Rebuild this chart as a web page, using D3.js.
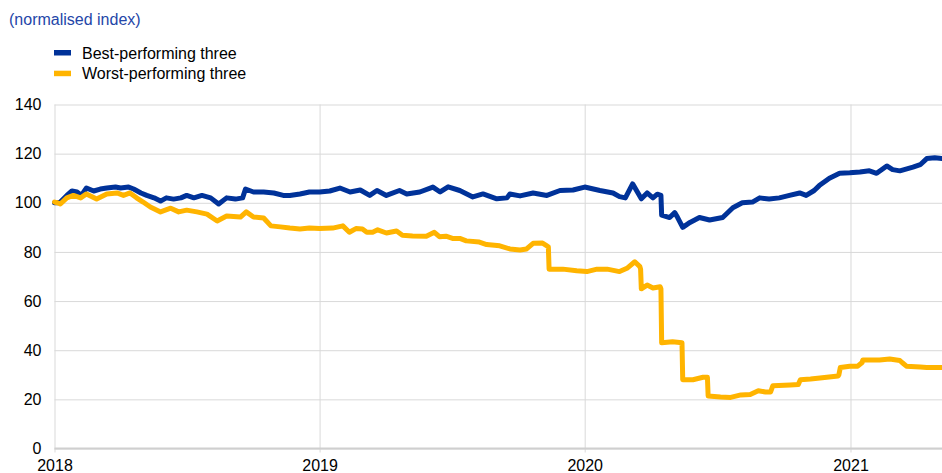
<!DOCTYPE html>
<html>
<head>
<meta charset="utf-8">
<script src="https://cdn.jsdelivr.net/npm/d3@7"></script>
<style>
  html, body { margin: 0; padding: 0; background: #fff; }
  svg { display: block; font-family: Arial, "Liberation Sans", sans-serif; }
</style>
</head>
<body>
<svg id="chart" width="942" height="473"></svg>
<script>
const yTickValues = [0, 20, 40, 60, 80, 100, 120, 140];
const xTickLabels = ["2018", "2019", "2020", "2021"];
const seriesNames = ["Best-performing three", "Worst-performing three"];
const unitLabel = "(normalised index)";

const bestDates = ["2018-01-01","2018-01-05","2018-01-09","2018-01-18","2018-01-25","2018-02-01","2018-02-07","2018-02-14","2018-02-24","2018-03-05","2018-03-14","2018-03-26","2018-04-02","2018-04-13","2018-04-20","2018-04-30","2018-05-08","2018-05-18","2018-05-27","2018-06-04","2018-06-14","2018-06-24","2018-07-02","2018-07-12","2018-07-23","2018-08-04","2018-08-15","2018-08-26","2018-09-07","2018-09-17","2018-09-21","2018-10-02","2018-10-16","2018-10-30","2018-11-12","2018-11-21","2018-12-05","2018-12-18","2019-01-01","2019-01-15","2019-01-29","2019-02-12","2019-02-26","2019-03-11","2019-03-21","2019-04-03","2019-04-21","2019-05-01","2019-05-19","2019-06-06","2019-06-16","2019-06-27","2019-07-13","2019-07-31","2019-08-14","2019-09-02","2019-09-16","2019-09-20","2019-10-04","2019-10-22","2019-11-10","2019-11-28","2019-12-16","2020-01-01","2020-01-22","2020-02-09","2020-02-18","2020-02-26","2020-03-07","2020-03-19","2020-03-27","2020-04-04","2020-04-10","2020-04-15","2020-04-16","2020-04-27","2020-05-04","2020-05-08","2020-05-15","2020-05-25","2020-06-07","2020-06-21","2020-07-09","2020-07-23","2020-08-05","2020-08-19","2020-08-29","2020-09-11","2020-09-25","2020-10-09","2020-10-23","2020-11-01","2020-11-12","2020-11-19","2020-12-03","2020-12-17","2020-12-31","2021-01-14","2021-01-27","2021-02-06","2021-02-20","2021-02-28","2021-03-10","2021-03-28","2021-04-07","2021-04-16","2021-04-27","2021-05-07"];
const bestValues = [100,100,100.3,103,104.8,104.4,103,106,104.8,105.6,106,106.4,106,106.4,105.6,104,103,102,100.7,102,101.5,102,103,102,103,102,99.5,102,101.5,102,105.6,104.4,104.4,104,103,103,103.6,104.4,104.4,104.8,106,104.4,105.2,103,105,103,105,103.6,104.4,106.4,104.4,106.5,105,102.4,103.6,101.6,102,103.6,102.8,104,103,105,105.2,106.4,105,104,102.5,102,107.7,101.6,104,102,103.5,103,95,94,96,94,90,92,94,93,94,98,100,100.3,102,101.5,102,103,104,103,105,107,110,112,112.2,112.5,113,112,115,113.5,113,114.5,115.5,118,118.3,118];

const worstDates = ["2018-01-01","2018-01-05","2018-01-09","2018-01-18","2018-01-27","2018-02-06","2018-02-14","2018-02-28","2018-03-14","2018-03-28","2018-04-06","2018-04-15","2018-04-24","2018-05-03","2018-05-13","2018-05-27","2018-06-10","2018-06-21","2018-07-02","2018-07-16","2018-07-30","2018-08-13","2018-08-26","2018-09-14","2018-09-22","2018-10-02","2018-10-16","2018-10-26","2018-11-08","2018-11-21","2018-12-05","2018-12-18","2019-01-01","2019-01-19","2019-02-02","2019-02-11","2019-02-20","2019-03-01","2019-03-07","2019-03-15","2019-03-22","2019-04-03","2019-04-17","2019-04-25","2019-05-09","2019-05-28","2019-06-08","2019-06-15","2019-06-24","2019-07-03","2019-07-13","2019-07-22","2019-08-09","2019-08-19","2019-09-06","2019-09-20","2019-10-04","2019-10-13","2019-10-22","2019-11-04","2019-11-10","2019-11-12","2019-11-13","2019-12-02","2019-12-21","2020-01-04","2020-01-18","2020-02-01","2020-02-18","2020-02-29","2020-03-10","2020-03-17","2020-03-18","2020-03-19","2020-03-27","2020-04-04","2020-04-14","2020-04-15","2020-04-16","2020-05-01","2020-05-14","2020-05-15","2020-05-29","2020-06-12","2020-06-18","2020-06-19","2020-07-06","2020-07-20","2020-08-03","2020-08-16","2020-08-27","2020-09-06","2020-09-13","2020-09-16","2020-10-10","2020-10-21","2020-10-24","2020-11-07","2020-11-20","2020-12-15","2020-12-16","2020-12-18","2020-12-31","2021-01-11","2021-01-17","2021-01-18","2021-02-10","2021-02-24","2021-03-10","2021-03-13","2021-03-19","2021-04-07","2021-04-16","2021-05-07"];
const worstValues = [100.3,100,99.5,102,103,102,103.6,101.5,103.6,104,103,104,102,100.3,98.3,96.3,97.8,96.3,97,96.3,95.4,92.6,94.6,94.2,96.3,94.2,93.8,90.6,90.2,89.7,89.3,89.7,89.5,89.7,90.6,88,89.5,89.3,88,88,89,87.7,88.5,86.8,86.5,86.4,88,86.2,86.4,85.5,85.5,84.5,84,83,82.5,81.2,80.8,81.2,83.5,83.6,82.5,82,73,73,72.3,72,73,73,72,73.5,76,74,73,65,66.5,65.3,65.8,65,43,43.4,43,28,28,29,29,21.4,21,20.8,21.8,22,23.5,23,23,25.5,25.8,26,28,28.3,28.7,29.5,30,33,33.5,33.5,35,36,36,36.4,35.8,35,33.5,33.2,33,33];

const colors = ["#003299", "#ffb400"];

const parse = d3.utcParse("%Y-%m-%d");
const best = bestDates.map((d, i) => ({ date: parse(d), value: bestValues[i] }));
const worst = worstDates.map((d, i) => ({ date: parse(d), value: worstValues[i] }));

const svg = d3.select("#chart");
const mLeft = 54.5, mRight = 942, mTop = 104.5, mBottom = 448.5;

const x = d3.scaleUtc()
  .domain([parse("2018-01-01"), parse("2021-05-07")])
  .range([mLeft, mRight]);
const y = d3.scaleLinear().domain([0, 140]).range([mBottom, mTop]);

// horizontal gridlines + y labels
const yAxis = d3.axisLeft(y)
  .tickValues(yTickValues)
  .tickSize(-(mRight - mLeft))
  .tickPadding(13)
  .tickFormat(d3.format("d"));
const gy = svg.append("g").attr("transform", `translate(${mLeft},0)`).call(yAxis);
gy.select(".domain").remove();
gy.selectAll(".tick line").attr("stroke", "#d9d9d9").attr("stroke-width", 1);
gy.selectAll(".tick text")
  .attr("fill", "#000").attr("font-size", 16)
  .attr("font-family", "Arial, 'Liberation Sans', sans-serif");

// vertical year gridlines + labels
const yearDates = xTickLabels.map(s => parse(s + "-01-01"));
const xAxis = d3.axisBottom(x)
  .tickValues(yearDates)
  .tickSize(4)
  .tickPadding(0)
  .tickFormat((d, i) => xTickLabels[i]);
const gx = svg.append("g").attr("transform", `translate(0,${mBottom})`).call(xAxis);
gx.select(".domain").remove();
gx.selectAll(".tick line")
  .attr("stroke", "#d9d9d9").attr("stroke-width", 1)
  .attr("y1", -(mBottom - mTop)).attr("y2", 4);
gx.selectAll(".tick text")
  .attr("fill", "#000").attr("font-size", 16).attr("y", 22.5).attr("dy", null)
  .attr("font-family", "Arial, 'Liberation Sans', sans-serif");

// baseline
svg.append("line")
  .attr("x1", mLeft).attr("x2", mRight)
  .attr("y1", y(0)).attr("y2", y(0))
  .attr("stroke", "#cfcfcf").attr("stroke-width", 2);

const line = d3.line().x(d => x(d.date)).y(d => y(d.value));

svg.append("path").datum(best)
  .attr("fill", "none").attr("stroke", colors[0])
  .attr("stroke-width", 5).attr("stroke-linejoin", "round").attr("stroke-linecap", "round")
  .attr("d", line);
svg.append("path").datum(worst)
  .attr("fill", "none").attr("stroke", colors[1])
  .attr("stroke-width", 5).attr("stroke-linejoin", "round").attr("stroke-linecap", "round")
  .attr("d", line);

// title
svg.append("text")
  .attr("x", 9).attr("y", 25)
  .attr("fill", "#2446a8").attr("font-size", 16)
  .text(unitLabel);

// legend
const legend = svg.append("g");
seriesNames.forEach((name, i) => {
  const yy = 50 + i * 20.7;
  legend.append("rect")
    .attr("x", 54).attr("y", yy).attr("width", 17).attr("height", 5.5)
    .attr("fill", colors[i]);
  legend.append("text")
    .attr("x", 82).attr("y", yy + 8.5)
    .attr("fill", "#000").attr("font-size", 16)
    .text(name);
});
</script>
</body>
</html>
